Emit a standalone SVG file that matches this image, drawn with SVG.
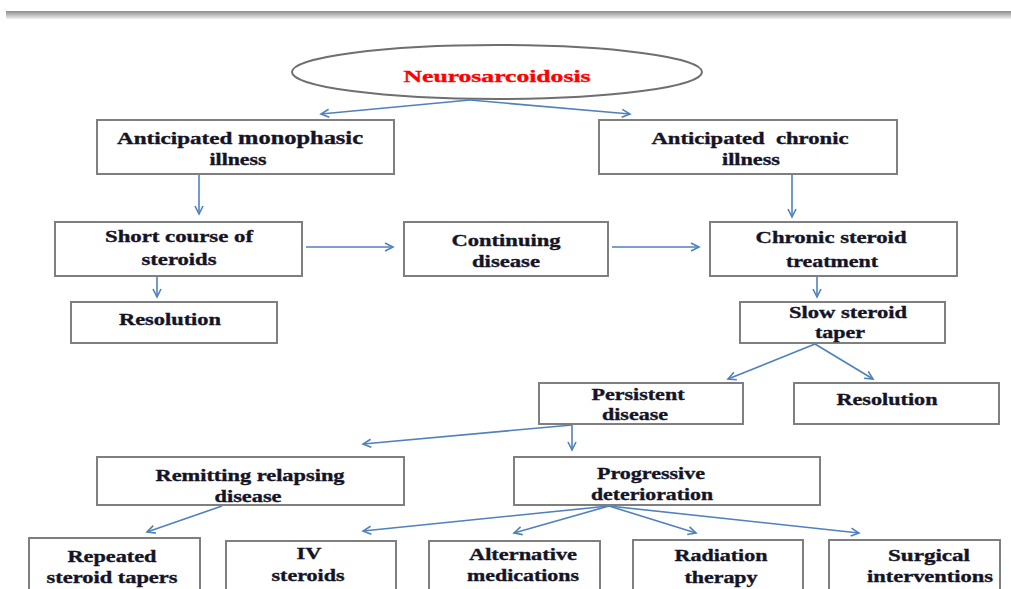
<svg xmlns="http://www.w3.org/2000/svg" width="1011" height="589" viewBox="0 0 1011 589">
<defs>
<linearGradient id="bar" x1="0" y1="0" x2="0" y2="1">
<stop offset="0" stop-color="#8c8c8c"/>
<stop offset="0.5" stop-color="#bdbdbd"/>
<stop offset="1" stop-color="#f2f2f2"/>
</linearGradient>
<marker id="ah" markerWidth="12" markerHeight="12" refX="9" refY="5" orient="auto" markerUnits="userSpaceOnUse">
<path d="M1,1 L9,5 L1,9" fill="none" stroke="#4f81bd" stroke-width="1.6"/>
</marker>
</defs>
<style>
.box{fill:#fff;stroke:#7f7f7f;stroke-width:2}
.t{font-family:"Liberation Serif","Times New Roman",serif;font-weight:bold;font-size:17px;fill:#141426;stroke:#141426;stroke-width:0.35;text-anchor:middle}
.red{fill:#ff0000;stroke:#ff0000}
.c{fill:none;stroke:#4f81bd;stroke-width:1.6;marker-end:url(#ah)}
</style>
<rect x="6" y="11" width="1005" height="8" fill="url(#bar)"/>
<g id="connectors">
<path class="c" d="M470,100 L321,114"/>
<path class="c" d="M470,100 L630,114"/>
<path class="c" d="M199,174 L199,214"/>
<path class="c" d="M157,276 L157,297"/>
<path class="c" d="M306,247 L393,247"/>
<path class="c" d="M612,247 L699,247"/>
<path class="c" d="M792,174 L792,217"/>
<path class="c" d="M817,276 L817,297"/>
<path class="c" d="M815,344 L728,379"/>
<path class="c" d="M815,344 L873,379"/>
<path class="c" d="M572,425 L363,444"/>
<path class="c" d="M572,425 L572,450"/>
<path class="c" d="M222,506 L147,532"/>
<path class="c" d="M609,506 L363,531"/>
<path class="c" d="M609,506 L514,533"/>
<path class="c" d="M609,506 L696,533"/>
<path class="c" d="M609,506 L859,533"/>
</g>
<g id="n-neuro">
<ellipse cx="497" cy="72" rx="205" ry="27" fill="#fff" stroke="#6f6f6f" stroke-width="2"/>
<text class="t red" x="497" y="82" textLength="187" lengthAdjust="spacingAndGlyphs">Neurosarcoidosis</text>
</g>
<g id="n-mono">
<rect class="box" x="97" y="120" width="297" height="54"/>
<text class="t" x="240" y="144" textLength="246" lengthAdjust="spacingAndGlyphs">Anticipated <tspan font-size="18">monophasic</tspan></text>
<text class="t" x="238" y="165" textLength="57" lengthAdjust="spacingAndGlyphs">illness</text>
</g>
<g id="n-chronic">
<rect class="box" x="599" y="120" width="298" height="54"/>
<text class="t" x="750" y="144" textLength="197" lengthAdjust="spacingAndGlyphs" xml:space="preserve">Anticipated  chronic</text>
<text class="t" x="751" y="165" textLength="58" lengthAdjust="spacingAndGlyphs">illness</text>
</g>
<g id="n-short">
<rect class="box" x="55" y="222" width="247" height="54"/>
<text class="t" x="179" y="242" textLength="148" lengthAdjust="spacingAndGlyphs">Short course of</text>
<text class="t" x="179" y="265" textLength="75" lengthAdjust="spacingAndGlyphs">steroids</text>
</g>
<g id="n-continuing">
<rect class="box" x="404" y="222" width="204" height="54"/>
<text class="t" x="506" y="246" textLength="109" lengthAdjust="spacingAndGlyphs">Continuing</text>
<text class="t" x="506" y="267" textLength="68" lengthAdjust="spacingAndGlyphs">disease</text>
</g>
<g id="n-chronicsteroid">
<rect class="box" x="710" y="222" width="247" height="54"/>
<text class="t" x="831" y="243" textLength="151" lengthAdjust="spacingAndGlyphs">Chronic steroid</text>
<text class="t" x="832" y="267" textLength="92" lengthAdjust="spacingAndGlyphs">treatment</text>
</g>
<g id="n-res1">
<rect class="box" x="71" y="302" width="206" height="41"/>
<text class="t" x="170" y="325" textLength="102" lengthAdjust="spacingAndGlyphs">Resolution</text>
</g>
<g id="n-slow">
<rect class="box" x="740" y="302" width="205" height="41"/>
<text class="t" x="848" y="318" textLength="118" lengthAdjust="spacingAndGlyphs">Slow steroid</text>
<text class="t" x="840" y="338" textLength="50" lengthAdjust="spacingAndGlyphs">taper</text>
</g>
<g id="n-persistent">
<rect class="box" x="539" y="383" width="204" height="41"/>
<text class="t" x="638" y="400" textLength="93" lengthAdjust="spacingAndGlyphs">Persistent</text>
<text class="t" x="635" y="420" textLength="66" lengthAdjust="spacingAndGlyphs">disease</text>
</g>
<g id="n-res2">
<rect class="box" x="794" y="383" width="205" height="41"/>
<text class="t" x="887" y="405" textLength="101" lengthAdjust="spacingAndGlyphs">Resolution</text>
</g>
<g id="n-remitting">
<rect class="box" x="97" y="457" width="307" height="48"/>
<text class="t" x="250" y="481" textLength="189" lengthAdjust="spacingAndGlyphs">Remitting relapsing</text>
<text class="t" x="248" y="502" textLength="67" lengthAdjust="spacingAndGlyphs">disease</text>
</g>
<g id="n-progressive">
<rect class="box" x="514" y="457" width="306" height="48"/>
<text class="t" x="651" y="479" textLength="108" lengthAdjust="spacingAndGlyphs">Progressive</text>
<text class="t" x="652" y="500" textLength="122" lengthAdjust="spacingAndGlyphs">deterioration</text>
</g>
<g id="n-repeated">
<rect class="box" x="29" y="538" width="171" height="70"/>
<text class="t" x="112" y="562" textLength="89" lengthAdjust="spacingAndGlyphs">Repeated</text>
<text class="t" x="112" y="583" textLength="131" lengthAdjust="spacingAndGlyphs">steroid tapers</text>
</g>
<g id="n-iv">
<rect class="box" x="226" y="541" width="170" height="70"/>
<text class="t" x="309" y="559" textLength="25" lengthAdjust="spacingAndGlyphs">IV</text>
<text class="t" x="308" y="581" textLength="73" lengthAdjust="spacingAndGlyphs">steroids</text>
</g>
<g id="n-alt">
<rect class="box" x="429" y="541" width="171" height="70"/>
<text class="t" x="523" y="560" textLength="108" lengthAdjust="spacingAndGlyphs">Alternative</text>
<text class="t" x="523" y="581" textLength="112" lengthAdjust="spacingAndGlyphs">medications</text>
</g>
<g id="n-rad">
<rect class="box" x="633" y="540" width="170" height="70"/>
<text class="t" x="721" y="561" textLength="93" lengthAdjust="spacingAndGlyphs">Radiation</text>
<text class="t" x="721" y="583" textLength="73" lengthAdjust="spacingAndGlyphs">therapy</text>
</g>
<g id="n-surg">
<rect class="box" x="829" y="540" width="171" height="70"/>
<text class="t" x="929" y="561" textLength="82" lengthAdjust="spacingAndGlyphs">Surgical</text>
<text class="t" x="930" y="582" textLength="126" lengthAdjust="spacingAndGlyphs">interventions</text>
</g>
</svg>
